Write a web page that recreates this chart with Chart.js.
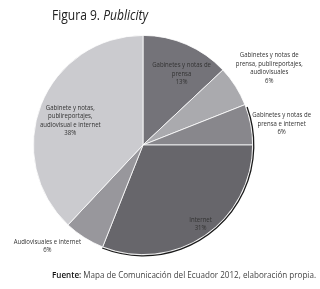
<!DOCTYPE html>
<html>
<head>
<meta charset="utf-8">
<script src="https://cdn.jsdelivr.net/npm/chart.js@4.4.0/dist/chart.umd.min.js"></script>
<style>
  html, body { margin: 0; padding: 0; background: #fff; }
  #wrap { position: relative; width: 320px; height: 289px; overflow: hidden; }
  canvas { position: absolute; left: 0; top: 0; }
  #title { position: absolute; left: 52px; top: 4px; font-family: "Open Sans", sans-serif; font-size: 15px; color: #222; white-space: nowrap; transform-origin: 0 0; }
  #title i { font-style: italic; }
  #foot { position: absolute; left: 52px; top: 268px; font-family: "Open Sans", sans-serif; font-size: 9.5px; color: #444; white-space: nowrap; transform-origin: 0 0; }
  #foot b { font-weight: 600; color: #111; }
</style>
</head>
<body>
<div id="wrap">
  <canvas id="c" width="320" height="289"></canvas>
  <div id="title">Figura 9. <i>Publicity</i></div>
  <div id="foot"><b>Fuente:</b> Mapa de Comunicación del Ecuador 2012, elaboración propia.</div>
</div>
<script>
const categories = [
  ["Gabinetes y notas de", "prensa"],
  ["Gabinetes y notas de", "prensa, publireportajes,", "audiovisuales"],
  ["Gabinetes y notas de", "prensa e internet"],
  ["Internet"],
  ["Audiovisuales e internet"],
  ["Gabinete y notas,", "publireportajes,", "audiovisual e internet"]
];
const values = [13, 6, 6, 31, 6, 38];
const percentLabels = ["13%", "6%", "6%", "31%", "6%", "38%"];

const colors = ["#747379", "#aaaaae", "#88878c", "#67666b", "#98979c", "#cbcbcf"];
// label placement: radial factor and angle adjustment (degrees)
const labelPlace = [
  { r: 0.74, da: 5 },
  { r: 1.35, da: 1 },
  { r: 1.28, da: 2 },
  { r: 0.89, da: -2 },
  { r: 1.27, da: 11 },
  { r: 0.70, da: -3 }
];

function fitWidth(id, w) {
  const el = document.getElementById(id);
  const cur = el.getBoundingClientRect().width;
  el.style.transform = 'scaleX(' + (w / cur) + ')';
}
fitWidth('title', 96);
fitWidth('foot', 264);

const labelPlugin = {
  id: 'sliceLabels',
  afterDatasetsDraw(chart) {
    const ctx = chart.ctx;
    const meta = chart.getDatasetMeta(0);
    const a = meta.data[3];
    ctx.save();
    ctx.beginPath();
    ctx.arc(a.x, a.y, a.outerRadius + 1.2, a.startAngle - 0.35, a.endAngle);
    ctx.strokeStyle = '#1a1a1a';
    ctx.lineWidth = 1.3;
    ctx.stroke();
    ctx.restore();

    meta.data.forEach((arc, i) => {
      const p = labelPlace[i];
      const mid = (arc.startAngle + arc.endAngle) / 2 + p.da * Math.PI / 180;
      const r = arc.outerRadius * p.r;
      const cx = arc.x + Math.cos(mid) * r;
      const cy = arc.y + Math.sin(mid) * r;
      const lines = categories[i].concat([percentLabels[i]]);
      const lh = 8.4;
      const y0 = cy - (lines.length - 1) * lh / 2;
      ctx.save();
      ctx.translate(cx, 0);
      ctx.scale(0.86, 1);
      ctx.font = '7px "Open Sans", sans-serif';
      ctx.fillStyle = '#333';
      ctx.textAlign = 'center';
      ctx.textBaseline = 'middle';
      lines.forEach((t, j) => ctx.fillText(t, 0, y0 + j * lh));
      ctx.restore();
    });
  }
};

new Chart(document.getElementById('c'), {
  type: 'pie',
  data: {
    labels: categories.map(c => c.join(' ')),
    datasets: [{
      data: values,
      backgroundColor: colors,
      borderColor: '#ffffff',
      borderWidth: 0.8
    }]
  },
  options: {
    responsive: false,
    animation: false,
    events: [],
    layout: { padding: { left: 33, right: 67, top: 35, bottom: 34 } },
    plugins: { legend: { display: false }, tooltip: { enabled: false }, title: { display: false } }
  },
  plugins: [labelPlugin]
});
</script>
</body>
</html>
